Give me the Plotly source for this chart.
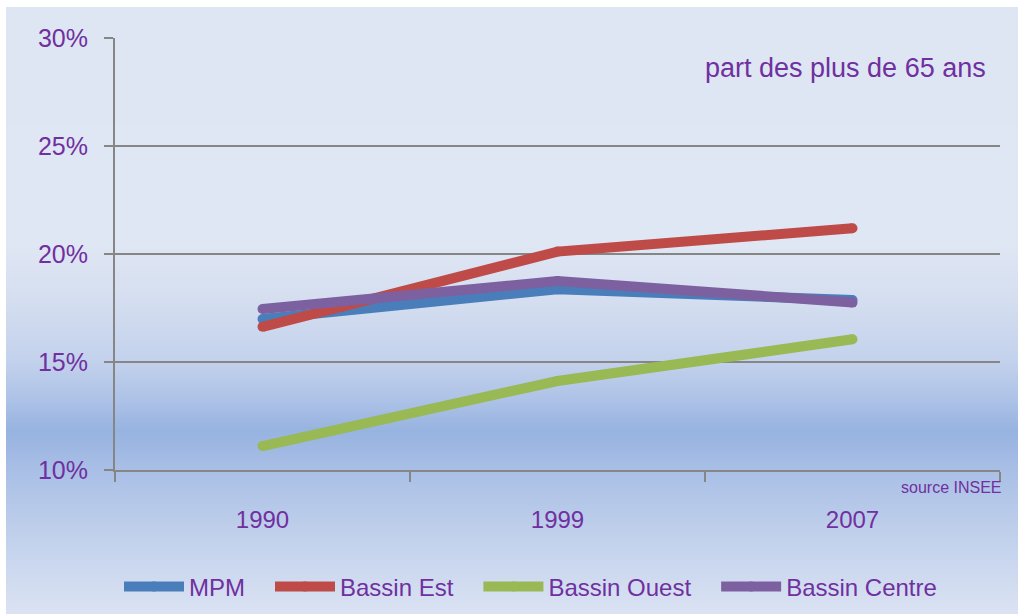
import base64, struct, zlib
import plotly.graph_objects as go

# ---- data ----
years = ["1990", "1999", "2007"]
mpm = [16.99, 18.37, 17.87]
bassin_est = [16.63, 20.11, 21.19]
bassin_ouest = [11.11, 14.12, 16.05]
bassin_centre = [17.45, 18.75, 17.75]
series_names = ["MPM", "Bassin Est", "Bassin Ouest", "Bassin Centre"]
series_colors = ["#4a7ebb", "#be4b48", "#98b954", "#7d60a0"]
y_ticks = [10, 15, 20, 25, 30]

TEXT = "#7030a0"
GRID = "#868686"
FONT = "Liberation Sans, Arial, sans-serif"

W, H = 1018, 614
L, R, T, B = 115, 18, 38, 144
PW, PH = W - L - R, H - T - B

# ---- vertical gradient background (PNG built by hand) ----
stops = [(7, (223, 230, 243)), (240, (224, 231, 244)), (300, (213, 222, 240)),
         (362, (194, 209, 236)), (400, (173, 194, 231)), (430, (151, 179, 224)),
         (470, (169, 191, 230)), (530, (191, 207, 235)), (614, (219, 227, 243))]

def color_at(y):
    for (y0, c0), (y1, c1) in zip(stops, stops[1:]):
        if y0 <= y <= y1:
            t = (y - y0) / (y1 - y0)
            return tuple(round(a + (b - a) * t) for a, b in zip(c0, c1))
    return stops[-1][1]

def gradient_png(y0, y1, w=4):
    rows = []
    for y in range(y0, y1):
        rows.append(b"\x00" + bytes(color_at(y)) * w)
    raw = b"".join(rows)
    def chunk(tag, data):
        return struct.pack(">I", len(data)) + tag + data + struct.pack(">I", zlib.crc32(tag + data) & 0xffffffff)
    png = (b"\x89PNG\r\n\x1a\n" + chunk(b"IHDR", struct.pack(">IIBBBBB", w, y1 - y0, 8, 2, 0, 0, 0))
           + chunk(b"IDAT", zlib.compress(raw)) + chunk(b"IEND", b""))
    return "data:image/png;base64," + base64.b64encode(png).decode()

bg_src = gradient_png(7, 614)

NBSP = "\u00a0"
fig = go.Figure()
for name, vals, col in zip(series_names, [mpm, bassin_est, bassin_ouest, bassin_centre], series_colors):
    fig.add_trace(go.Scatter(
        x=years, y=vals, name=name + NBSP * 3, mode="lines+markers",
        line=dict(color=col, width=10),
        marker=dict(color=col, size=10, line=dict(width=0)),
    ))

def px_x(px):
    return (px - L) / PW

def px_y(py):
    return (H - B - py) / PH

fig.update_layout(
    width=W, height=H,
    margin=dict(l=L, r=R, t=T, b=B, pad=0, autoexpand=False),
    paper_bgcolor="white",
    plot_bgcolor="rgba(0,0,0,0)",
    font=dict(family=FONT, color=TEXT),
    images=[dict(source=bg_src, xref="paper", yref="paper",
                 x=px_x(6), y=px_y(7), sizex=(W - 6) / PW, sizey=(H - 7) / PH,
                 xanchor="left", yanchor="top", sizing="stretch", layer="below")],
    xaxis=dict(
        type="category", categoryorder="array", categoryarray=years,
        range=[-0.5, 2.5], tickson="boundaries", ticks="outside", ticklen=10,
        tickwidth=2, tickcolor=GRID, showline=True, linecolor=GRID, linewidth=2,
        showgrid=False, zeroline=False, automargin=False,
        tickfont=dict(size=24, color=TEXT, family=FONT), ticklabelstandoff=27,
    ),
    yaxis=dict(
        range=[10, 30], tickvals=y_ticks, ticktext=[f"{v}%" for v in y_ticks],
        ticks="outside", ticklen=9, tickwidth=2, tickcolor=GRID,
        showline=True, linecolor=GRID, linewidth=2, automargin=False,
        showgrid=True, gridcolor=GRID, gridwidth=2, zeroline=False,
        tickfont=dict(size=25, color=TEXT, family=FONT), ticklabelstandoff=11,
    ),
    legend=dict(
        orientation="h", x=px_x(119), xanchor="left", y=px_y(587), yanchor="middle",
        font=dict(size=24, color=TEXT, family=FONT), bgcolor="rgba(0,0,0,0)",
        itemwidth=60, traceorder="normal",
    ),
    showlegend=True,
    annotations=[
        dict(text="part des plus de 65 ans", xref="paper", yref="paper",
             x=px_x(988), y=px_y(68), xanchor="right", yanchor="middle",
             showarrow=False, font=dict(size=27, color=TEXT, family=FONT)),
        dict(text="source INSEE", xref="paper", yref="paper",
             x=px_x(1003), y=px_y(487), xanchor="right", yanchor="middle",
             showarrow=False, font=dict(size=16, color=TEXT, family=FONT)),
    ],
)

fig.write_html("out.html", config={"displayModeBar": False},
               post_script="document.body.style.margin='0px';")
